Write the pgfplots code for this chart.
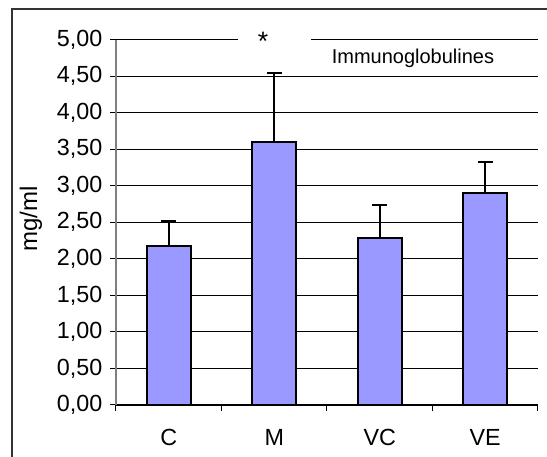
\documentclass[border=0pt]{standalone}
\usepackage{fontspec}
\setmainfont{Liberation Sans}
\usepackage{pgfplots}
\pgfplotsset{compat=1.18}
\definecolor{barblue}{HTML}{9999FF}

\begin{document}
\begin{tikzpicture}
	\begin{axis}[
	scale only axis,
	width=316.5pt,
	height=274.1pt,
	xmin=-0.5, xmax=3.5,
	ymin=0, ymax=5,
	clip=false,
	axis lines*=left,
	x axis line style={-,black,line width=1pt},
	y axis line style={-,gray,line width=1pt},
	ytick={0,0.5,1,1.5,2,2.5,3,3.5,4,4.5,5},
	scaled y ticks=false,
	ymajorgrids,
	major grid style={black,line width=0.75pt},
	xtick={0,1,2,3},
	xticklabels={C,M,VC,VE},
	major x tick style={draw=none},
	minor xtick={-0.5,0.5,1.5,2.5,3.5},
	tick align=outside,
	major tick length=4.5pt,
	minor tick length=4.5pt,
	tick style={black,line width=0.75pt},
	yticklabel style={
		font=\fontsize{17.5}{20}\selectfont, xshift=-2.25pt,
		/pgf/number format/.cd, fixed, fixed zerofill, precision=2, use comma, assume math mode=true
	},
	xticklabel style={font=\fontsize{17.5}{20}\selectfont, yshift=-10pt},
	ylabel={mg/ml},
	every axis y label/.style={at={(rel axis cs:-0.2014,0.509)}, rotate=90, anchor=center, font=\fontsize{18}{20}\selectfont},
	]
	\addplot [ybar, bar width=33pt, fill=barblue, draw=black, line width=1.5pt,
		error bars/.cd, y dir=plus, y explicit,
		error bar style={black, line width=1.5pt},
		error mark options={black, line width=1.5pt, mark size=5.6pt, rotate=90}]
	coordinates {
		(0,2.18) +- (0,0.34)
		(1,3.60) +- (0,0.94)
		(2,2.29) +- (0,0.45)
		(3,2.90) +- (0,0.43)
	};
	\node [fill=white, minimum width=55pt, minimum height=10pt, inner sep=0pt] at (axis cs:1,5) {};
	\node [font=\fontsize{20}{22}\selectfont, inner sep=0pt, yshift=-1.5pt] at (axis cs:0.893,5) {*};
	\node [font=\fontsize{15}{17}\selectfont] at (axis cs:2.315,4.74) {Immunoglobulines};
	\coordinate (O) at (rel axis cs:0,0);
	\end{axis}
	\draw [line width=1.5pt, black!80] ([shift={(-78pt,-60pt)}]O) -- ([shift={(-78pt,296.8pt)}]O) -- ([shift={(340pt,296.8pt)}]O);
	\pgfresetboundingbox
	\path [use as bounding box] ([shift={(-87pt,-39pt)}]O) rectangle ([shift={(323.25pt,303.75pt)}]O);
\end{tikzpicture}
\end{document}
